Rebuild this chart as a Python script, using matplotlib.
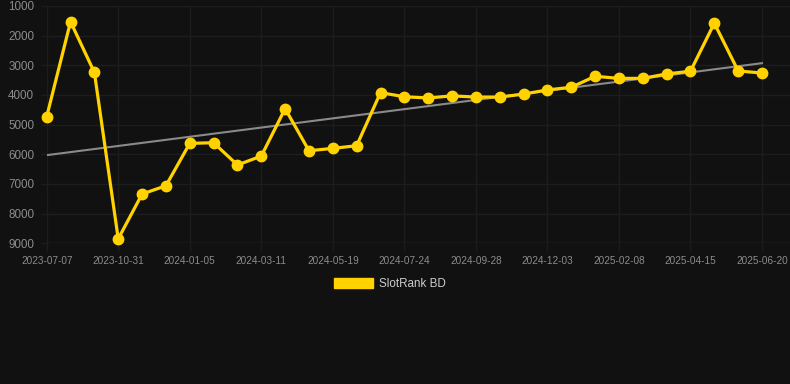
import numpy as np
import matplotlib
matplotlib.use("Agg")
import matplotlib.pyplot as plt
from matplotlib.patches import Patch

# rank per sample point (lower is better, axis is inverted)
ranks = [4730, 1530, 3240, 8850, 7340, 7060, 5630, 5610, 6360, 6060,
         4460, 5880, 5800, 5710, 3920, 4060, 4100, 4030, 4070, 4070,
         3970, 3830, 3740, 3370, 3440, 3440, 3290, 3200, 1580, 3190, 3260]
tick_pos = [0, 3, 6, 9, 12, 15, 18, 21, 24, 27, 30]
tick_labels = ["2023-07-07", "2023-10-31", "2024-01-05", "2024-03-11", "2024-05-19",
               "2024-07-24", "2024-09-28", "2024-12-03", "2025-02-08", "2025-04-15",
               "2025-06-20"]
y_ticks = [1000, 2000, 3000, 4000, 5000, 6000, 7000, 8000, 9000]
series_name = "SlotRank BD"

bg = "#111111"
gold = "#FFD200"
grid_c = "#1d1d1d"

plt.rcParams["font.family"] = ["Liberation Sans", "DejaVu Sans"]

fig = plt.figure(figsize=(7.9, 3.84), dpi=100, facecolor=bg)
W, H = 790, 384
left_px, right_px, top_px, bot_px = 46.7, 790, 6, 243.3
ax = fig.add_axes([left_px / W, 1 - bot_px / H, (right_px - left_px) / W, (bot_px - top_px) / H])
ax.set_facecolor(bg)

x = np.arange(len(ranks))
# linear trend
k, b = np.polyfit(x, ranks, 1)
ax.plot([x[0], x[-1]], [k * x[0] + b, k * x[-1] + b], color="#8a8a8a", lw=1.5, zorder=2)

ax.plot(x, ranks, color=gold, lw=2.3, marker="o", markersize=7.5, zorder=3, clip_on=False)

ax.set_ylim(9000, 1000)
ax.set_xlim(0, (right_px - left_px) / ((762 - 46.7) / 30))
ax.set_yticks(y_ticks)
ax.set_yticklabels([str(v) for v in y_ticks])
ax.set_xticks(tick_pos)
ax.set_xticklabels(tick_labels)

ax.grid(True, color=grid_c, lw=1)
ax.set_axisbelow(True)
for s in ax.spines.values():
    s.set_visible(False)
ax.axhline(9000, color="#2c2c2c", lw=1, zorder=1)
ax.tick_params(axis="y", colors=grid_c, length=4, width=1, labelcolor="#8c8c8c",
               labelsize=8.4, pad=5)
ax.tick_params(axis="x", colors=grid_c, length=6, width=1, labelcolor="#8c8c8c",
               labelsize=7.2, pad=3)

handle = Patch(facecolor=gold, edgecolor=gold, label=series_name)
leg = fig.legend(handles=[handle], loc="center", bbox_to_anchor=(390 / W, 1 - 284 / H),
                 frameon=False, fontsize=8.4, handlelength=3.3, handleheight=1.0,
                 handletextpad=0.5, labelcolor="#cccccc")

fig.savefig("out.png", dpi=100, facecolor=bg)
